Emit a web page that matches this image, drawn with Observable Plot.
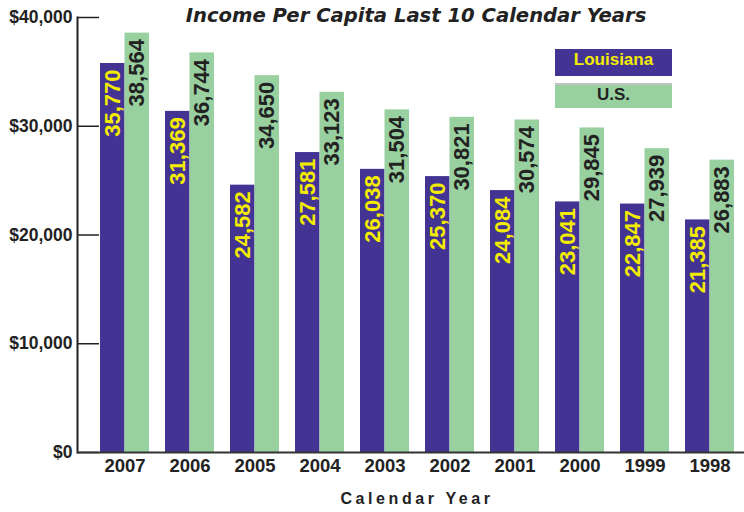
<!DOCTYPE html>
<html>
<head>
<meta charset="utf-8">
<script src="https://cdn.jsdelivr.net/npm/d3@7"></script>
<script src="https://cdn.jsdelivr.net/npm/@observablehq/plot@0.6"></script>
<style>
  body { margin: 0; background: #fff; }
  #wrap { position: relative; width: 744px; height: 512px; }
  .leg { position: absolute; left: 555px; width: 117px; text-align: center;
         font-family: "Liberation Sans", Arial, sans-serif; font-weight: bold; font-size: 17px; }
</style>
</head>
<body>
<div id="wrap"></div>
<script>
const years = ["2007","2006","2005","2004","2003","2002","2001","2000","1999","1998"];
const louisiana = [35770, 31369, 24582, 27581, 26038, 25370, 24084, 23041, 22847, 21385];
const us = [38564, 36744, 34650, 33123, 31504, 30821, 30574, 29845, 27939, 26883];
const seriesNames = ["Louisiana", "U.S."];
const yTicks = [0, 10000, 20000, 30000, 40000];
const title = "Income Per Capita Last 10 Calendar Years";
const xLabel = "Calendar Year";

const laColor = "#433393";
const usColor = "#98d0a0";
const yellow = "#f4ec00";
const dark = "#222";

const data = years.map((year, i) => ({year, la: louisiana[i], us: us[i]}));
const fmt = d3.format(",");
const half = 24.5;
const sans = "Liberation Sans, Arial, sans-serif";

const chart = Plot.plot({
  width: 744,
  height: 512,
  marginLeft: 77,
  marginRight: 0,
  marginTop: 17,
  marginBottom: 60,
  style: {fontFamily: sans, color: dark, background: "transparent"},
  x: {domain: years, paddingInner: 0.246, paddingOuter: 0.253, align: 0.7},
  y: {domain: [0, 40000]},
  marks: [
    Plot.barY(data, {x: "year", y: "la", fill: laColor, insetRight: half}),
    Plot.barY(data, {x: "year", y: "us", fill: usColor, insetLeft: half}),
    Plot.text(data, {x: "year", y: "la", text: d => fmt(d.la), rotate: -90, textAnchor: "end",
      lineAnchor: "middle", dx: -half / 2, dy: 6, fill: yellow, fontSize: 22, fontWeight: "bold",
      fontFamily: "Liberation Sans Narrow, Liberation Sans, Arial, sans-serif"}),
    Plot.text(data, {x: "year", y: "us", text: d => fmt(d.us), rotate: -90, textAnchor: "end",
      lineAnchor: "middle", dx: half / 2, dy: 6, fill: dark, fontSize: 22, fontWeight: "bold",
      fontFamily: "Liberation Sans Narrow, Liberation Sans, Arial, sans-serif"}),
    Plot.axisY({ticks: yTicks, tickSize: 0, tickPadding: 5, tickFormat: d => "$" + fmt(d),
      fontSize: 17.5, fontWeight: "bold", fill: dark, label: null}),
    Plot.tickY(yTicks, {y: d => d, insetRight: 645, stroke: dark, strokeWidth: 1.5}),
    Plot.axisX({tickSize: 0, tickPadding: 6, fontSize: 18.5, fontWeight: "bold", fill: dark, label: null}),
    Plot.frame({anchor: "left", stroke: dark, strokeWidth: 2}),
    Plot.ruleY([0], {stroke: "#333", strokeWidth: 2}),
    Plot.text([title], {frameAnchor: "top", dx: 5, dy: -2, lineAnchor: "middle", fontSize: 19.6,
      fontWeight: "bold", fontStyle: "italic", fontFamily: "DejaVu Sans, Verdana, sans-serif", fill: dark}),
    Plot.text([xLabel], {frameAnchor: "bottom", dx: 6, dy: 46, lineAnchor: "middle", fontSize: 16,
      fontWeight: "bold", fill: dark})
  ]
});

d3.select(chart).selectAll("text").filter(function() { return this.textContent === xLabel; })
  .style("letter-spacing", "3.6px");

const wrap = document.getElementById("wrap");
wrap.appendChild(chart);

const l1 = document.createElement("div");
l1.className = "leg";
l1.style.top = "49px"; l1.style.height = "27px"; l1.style.lineHeight = "22px";
l1.style.background = laColor; l1.style.color = yellow;
l1.textContent = seriesNames[0];
wrap.appendChild(l1);

const l2 = document.createElement("div");
l2.className = "leg";
l2.style.top = "83px"; l2.style.height = "23px"; l2.style.lineHeight = "20px";
l2.style.background = usColor; l2.style.color = dark;
l2.style.borderTop = "2px solid #c0c4c8";
l2.textContent = seriesNames[1];
wrap.appendChild(l2);
</script>
</body>
</html>
